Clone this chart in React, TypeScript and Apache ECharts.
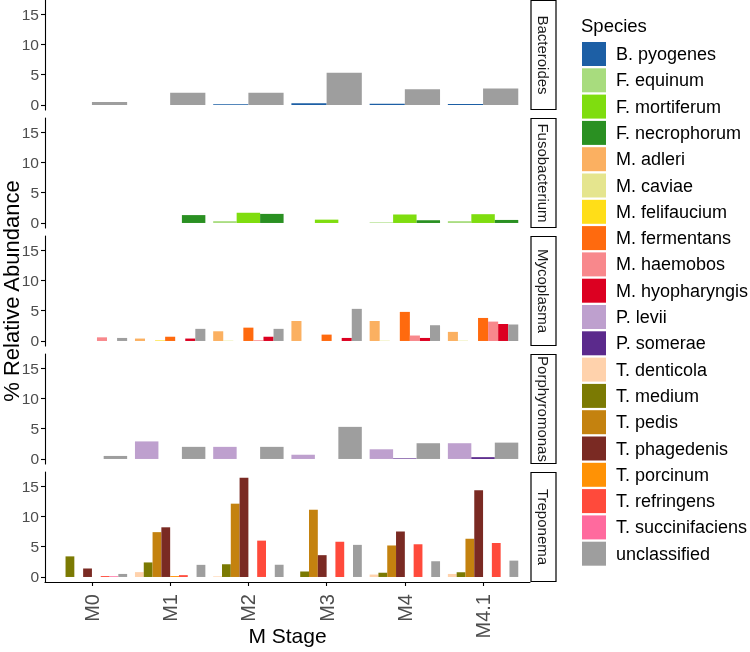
import React, { useEffect, useRef } from "react";
import * as echarts from "echarts";

const STAGES = ["M0", "M1", "M2", "M3", "M4", "M4.1"];
const Y_TICKS = [0, 5, 10, 15];

const SPECIES = [
  "B. pyogenes", "F. equinum", "F. mortiferum", "F. necrophorum",
  "M. adleri", "M. caviae", "M. felifaucium", "M. fermentans",
  "M. haemobos", "M. hyopharyngis", "P. levii", "P. somerae",
  "T. denticola", "T. medium", "T. pedis", "T. phagedenis",
  "T. porcinum", "T. refringens", "T. succinifaciens", "unclassified",
];
const COLORS = [
  "#1D5FA5", "#A8DC7E", "#7FDD0F", "#2A9022",
  "#FBB061", "#E5E58E", "#FFDE18", "#FF6A0E",
  "#F8888C", "#DC0021", "#BEA0CE", "#5B2A8C",
  "#FFD2AC", "#7B7A03", "#C4820F", "#7A2A23",
  "#FF9205", "#FF4A3B", "#FF6A9E", "#9E9E9E",
];

// values per stage (M0, M1, M2, M3, M4, M4.1); null = absent
const bPyogenes = [null, null, 0.1, 0.3, 0.2, 0.15];
const unclassified = [0.5, 2.0, 2.0, 5.3, 2.6, 2.7];
const fEquinum = [null, null, 0.3, null, 0.1, 0.3];
const fMortiferum = [null, null, 1.7, 0.55, 1.4, 1.45];
const fNecrophorum = [null, 1.3, 1.5, null, 0.45, 0.5];
const mAdleri = [null, 0.4, 1.6, 3.3, 3.3, 1.5];
const mCaviae = [null, null, 0.06, null, 0.06, 0.06];
const mFelifaucium = [null, 0.1, null, null, null, null];
const mFermentans = [null, 0.7, 2.2, 1.05, 4.8, 3.8];
const mHaemobos = [0.6, null, 0.1, null, 0.9, 3.2];
const mHyopharyngis = [null, 0.4, 0.7, 0.5, 0.5, 2.8];
const pLevii = [null, 2.9, 2.0, 0.7, 1.6, 2.6];
const pSomerae = [null, null, null, null, 0.1, 0.3];
const tDenticola = [null, 0.8, 0.1, null, 0.4, 0.5];
const tMedium = [3.4, 2.4, 2.1, 0.9, 0.7, 0.8];
const tPedis = [null, 7.4, 12.1, 11.1, 5.2, 6.3];
const tPhagedenis = [1.4, 8.2, 16.4, 3.6, 7.5, 14.3];
const tPorcinum = [null, 0.15, null, null, null, null];
const tRefringens = [0.15, 0.3, 6.0, 5.8, 5.4, 5.6];
const tSuccinifaciens = [0.12, null, null, null, null, null];

const PANELS = [
  { name: "Bacteroides", rows: [["B. pyogenes", bPyogenes], ["unclassified", unclassified]] },
  { name: "Fusobacterium", rows: [["F. equinum", fEquinum], ["F. mortiferum", fMortiferum], ["F. necrophorum", fNecrophorum]] },
  {
    name: "Mycoplasma",
    rows: [["M. adleri", mAdleri], ["M. caviae", mCaviae], ["M. felifaucium", mFelifaucium], ["M. fermentans", mFermentans],
      ["M. haemobos", mHaemobos], ["M. hyopharyngis", mHyopharyngis], ["unclassified", unclassified]],
  },
  { name: "Porphyromonas", rows: [["P. levii", pLevii], ["P. somerae", pSomerae], ["unclassified", unclassified]] },
  {
    name: "Treponema",
    rows: [["T. denticola", tDenticola], ["T. medium", tMedium], ["T. pedis", tPedis], ["T. phagedenis", tPhagedenis],
      ["T. porcinum", tPorcinum], ["T. refringens", tRefringens], ["T. succinifaciens", tSuccinifaciens], ["unclassified", unclassified]],
  },
] as { name: string; rows: [string, (number | null)[]][] }[];

const FONT = "'Liberation Sans', Arial, sans-serif";
const P_LEFT = 45;
const P_WIDTH = 485;
const P_HEIGHT = 110;
const P_STEP = 118;

export default function App() {
  const ref = useRef<HTMLDivElement>(null);
  useEffect(() => {
    if (!ref.current) return;
    const chart = echarts.init(ref.current, null, { renderer: "svg" });
    const n = PANELS.length;
    const grids = PANELS.map((_, i) => ({
      left: P_LEFT, top: i * P_STEP, width: P_WIDTH, height: P_HEIGHT,
      containLabel: false, outerBoundsMode: "none",
    }));
    const xAxes = PANELS.map((_, i) => {
      const last = i === n - 1;
      return {
        gridIndex: i,
        type: "value",
        min: 0.4,
        max: 6.6,
        splitLine: { show: false },
        axisLine: { show: last, onZero: false, lineStyle: { color: "#000", width: 1.1 } },
        axisTick: { show: last, customValues: [1, 2, 3, 4, 5, 6], length: 4, lineStyle: { color: "#000", width: 1.1 } },
        axisLabel: {
          show: last,
          customValues: [1, 2, 3, 4, 5, 6],
          rotate: 90,
          formatter: (v: number) => STAGES[Math.round(v) - 1],
          color: "#4d4d4d",
          fontSize: 20,
          fontFamily: FONT,
          margin: 12,
        },
        name: last ? "M Stage" : "",
        nameLocation: "middle",
        nameGap: 53,
        nameMoveOverlap: false,
        nameTextStyle: { fontSize: 21, color: "#000", fontFamily: FONT, verticalAlign: "middle" },
      };
    });
    const yAxes = PANELS.map((_, i) => ({
      gridIndex: i,
      type: "value",
      min: -0.83,
      max: 17.33,
      splitLine: { show: false },
      axisLine: { show: true, onZero: false, lineStyle: { color: "#000", width: 1.1 } },
      axisTick: { show: true, customValues: Y_TICKS, length: 4, lineStyle: { color: "#000", width: 1.1 } },
      axisLabel: { customValues: Y_TICKS, color: "#4d4d4d", fontSize: 15.5, fontFamily: FONT, margin: 6 },
      name: i === 2 ? "% Relative Abundance" : "",
      nameLocation: "middle",
      nameGap: 34,
      nameMoveOverlap: false,
      nameTextStyle: { fontSize: 22, color: "#000", fontFamily: FONT, verticalAlign: "middle" },
    }));
    const series: any[] = [];
    PANELS.forEach((p, i) => {
      const slots = p.rows.length;
      p.rows.forEach(([sp, vals], k) => {
        const color = COLORS[SPECIES.indexOf(sp)];
        series.push({
          type: "custom",
          name: sp,
          xAxisIndex: i,
          yAxisIndex: i,
          itemStyle: { color },
          encode: { x: 0, y: 1 },
          data: vals.flatMap((v, j) => (v == null ? [] : [[j + 1, v]])),
          renderItem: (params: any, api: any) => {
            const x = api.value(0);
            const v = api.value(1);
            const w = 0.9 / slots;
            const left = x - 0.45 + k * w;
            const a = api.coord([left, v]);
            const b = api.coord([left + w, 0]);
            return {
              type: "rect",
              shape: { x: a[0], y: a[1], width: b[0] - a[0], height: b[1] - a[1] },
              style: { fill: color },
            };
          },
        });
      });
    });
    const graphic: any[] = [];
    PANELS.forEach((p, i) => {
      graphic.push({
        type: "rect",
        shape: { x: P_LEFT + P_WIDTH + 1, y: i * P_STEP + 0.5, width: 25, height: P_HEIGHT - 1 },
        style: { fill: "#fff", stroke: "#000", lineWidth: 1.2 },
      });
      graphic.push({
        type: "text",
        x: P_LEFT + P_WIDTH + 13.5,
        y: i * P_STEP + P_HEIGHT / 2,
        rotation: -Math.PI / 2,
        style: { text: p.name, fontSize: 15, fill: "#1a1a1a", align: "center", verticalAlign: "middle", fontFamily: FONT },
      });
    });
    graphic.push({
      type: "text",
      x: 581,
      y: 25,
      style: { text: "Species", fontSize: 18.5, fill: "#000", align: "left", verticalAlign: "middle", fontFamily: FONT },
    });
    chart.setOption({
      animation: false,
      textStyle: { fontFamily: FONT },
      grid: grids,
      xAxis: xAxes,
      yAxis: yAxes,
      legend: {
        orient: "vertical",
        left: 582,
        top: 42,
        padding: 0,
        itemWidth: 24,
        itemHeight: 24,
        itemGap: 2.3,
        icon: "rect",
        selectedMode: false,
        data: SPECIES.map((s, idx) => ({ name: s, itemStyle: { color: COLORS[idx] } })),
        textStyle: { fontSize: 18, color: "#000", fontFamily: FONT, padding: [0, 0, 0, 5] },
      },
      graphic,
      series,
    });
    return () => chart.dispose();
  }, []);
  return <div ref={ref} style={{ position: "fixed", left: 0, top: 0, width: 750, height: 652 }} />;
}
